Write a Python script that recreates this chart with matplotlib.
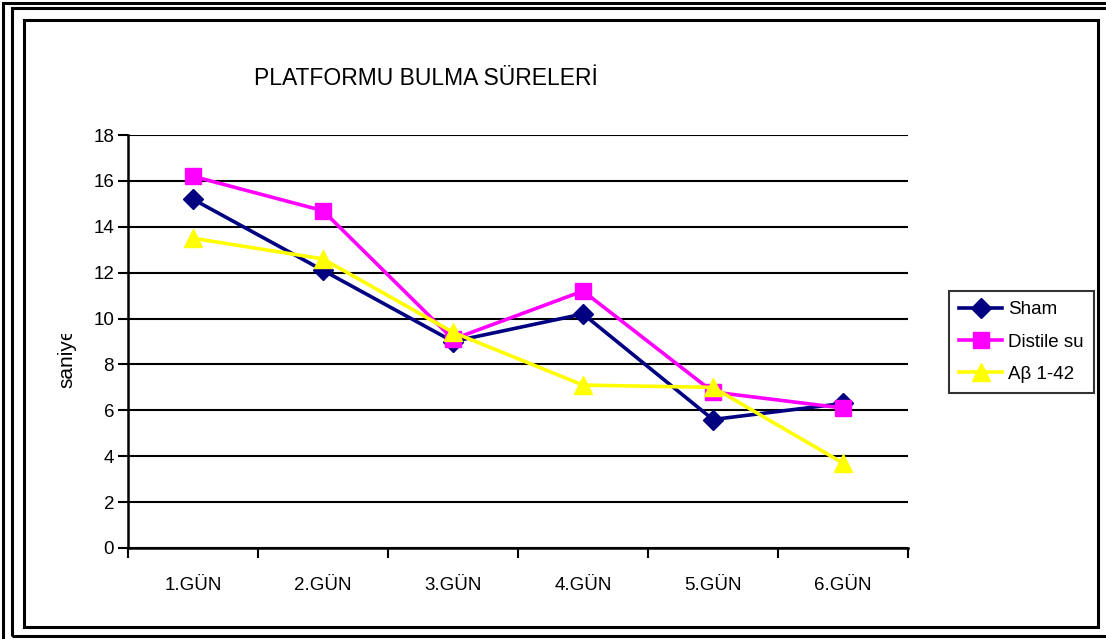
import matplotlib
matplotlib.use("Agg")
import matplotlib.pyplot as plt
from matplotlib.patches import Rectangle
from matplotlib.transforms import Bbox

plt.rcParams['font.family'] = ['Liberation Sans', 'DejaVu Sans']

days = ['1.GÜN', '2.GÜN', '3.GÜN', '4.GÜN', '5.GÜN', '6.GÜN']
sham = [15.2, 12.1, 9.0, 10.2, 5.6, 6.3]
distile = [16.2, 14.7, 9.1, 11.2, 6.8, 6.1]
abeta = [13.5, 12.6, 9.4, 7.1, 7.0, 3.7]

W, H = 1106, 639
fig = plt.figure(figsize=(W / 100, H / 100), dpi=100)


def frame(x0, y0, x1, y1, lw):
    # pixel box measured from top-left of the picture
    fig.add_artist(Rectangle((x0 / W, 1 - y1 / H), (x1 - x0) / W, (y1 - y0) / H,
                             transform=fig.transFigure, fill=False,
                             edgecolor='black', linewidth=lw))


frame(2.5, 3, 1130, 700, 2.2)
frame(12, 7.5, 1120, 636, 2.2)
frame(23.5, 19.5, 1097.5, 626.5, 2.2)

ax = fig.add_axes([128 / W, 1 - 548 / H, 780 / W, 413 / H])
x = range(len(days))
ax.plot(x, sham, color='#000080', marker='D', markersize=10, linewidth=2.6, label='Sham')
ax.plot(x, distile, color='#FF00FF', marker='s', markersize=12, linewidth=2.6, label='Distile su')
ax.plot(x, abeta, color='#FFFF00', marker='^', markersize=13, linewidth=2.6, label='Aβ 1-42')

ax.set_xlim(-0.5, len(days) - 0.5)
ax.set_ylim(0, 18)
ax.set_yticks(range(0, 19, 2))
ax.set_xticks(x)
ax.set_xticklabels(days)
ax.set_xticks([i - 0.5 for i in range(len(days) + 1)], minor=True)
ax.tick_params(axis='x', which='major', length=0, pad=21, labelsize=13.5)
ax.tick_params(axis='x', which='minor', length=7, width=1.5, direction='out')
ax.tick_params(axis='y', length=7, width=1.5, direction='out', labelsize=13.5, pad=3)
ax.yaxis.grid(True, color='black', linewidth=1.5)
ax.set_axisbelow(True)
for s in ['top', 'right']:
    ax.spines[s].set_visible(False)
for s in ['left', 'bottom']:
    ax.spines[s].set_linewidth(1.8)

ax.set_title('PLATFORMU BULMA SÜRELERİ', fontsize=16.5, x=0.382, y=1.1)

# y label is cut off at the top in the original
lab = fig.text(67 / W, 1 - 358 / H, 'saniye', rotation=90, fontsize=15,
               ha='center', va='center')
lab.set_clip_box(Bbox([[0, 0], [W, H - 334]]))
lab.set_clip_on(True)

leg = ax.legend(loc='center left', bbox_to_anchor=(949 / W, 1 - 342 / H),
                bbox_transform=fig.transFigure, frameon=True, fancybox=False,
                edgecolor='black', fontsize=13.5, handlelength=2.3,
                labelspacing=0.8, borderpad=0.55, handletextpad=0.3,
                borderaxespad=0)
leg.get_frame().set_linewidth(1.5)

fig.savefig('out.png', dpi=100)
